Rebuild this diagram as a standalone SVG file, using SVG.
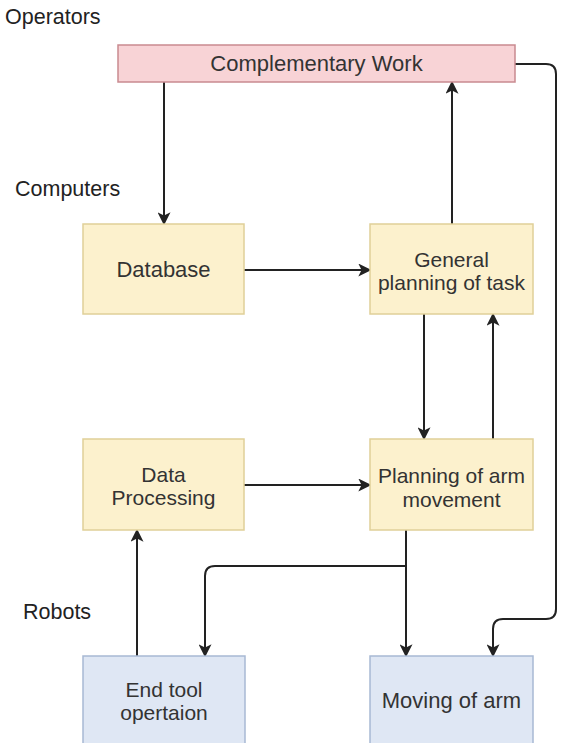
<svg xmlns="http://www.w3.org/2000/svg" width="566" height="743" viewBox="0 0 566 743">
  <defs>
    <style>
      .lbl { font-family: "Liberation Sans", Arial, sans-serif; font-size: 21.5px; fill: #222; }
      .txt { font-family: "Liberation Sans", Arial, sans-serif; font-size: 21px; fill: #333; text-anchor: middle; }
      .big { font-size: 22px; }
      .pink { fill: #f8d3d6; stroke: #c98a90; stroke-width: 1.5; }
      .yellow { fill: #fcf1cd; stroke: #e0cf98; stroke-width: 1.5; }
      .blue { fill: #dfe7f4; stroke: #a8b9d4; stroke-width: 1.5; }
      .edge { fill: none; stroke: #222; stroke-width: 2; marker-end: url(#arrow); }
    </style>
    <marker id="arrow" viewBox="0 0 10 10" refX="9" refY="5" markerWidth="13" markerHeight="13" markerUnits="userSpaceOnUse" orient="auto">
      <path d="M0,0 L10,5 L0,10 L2.5,5 Z" fill="#222"/>
    </marker>
  </defs>
  <rect width="566" height="743" fill="#fff"/>

  <!-- lane labels -->
  <text class="lbl" x="5" y="24">Operators</text>
  <text class="lbl" x="15" y="196">Computers</text>
  <text class="lbl" x="23" y="619">Robots</text>

  <!-- connectors -->
  <g id="connectors">
    <path class="edge" d="M164,82 V224"/>
    <path class="edge" d="M452,224 V82"/>
    <path class="edge" d="M244,270 H370"/>
    <path class="edge" d="M424,314 V439"/>
    <path class="edge" d="M493,439 V314"/>
    <path class="edge" d="M244,485 H370"/>
    <path class="edge" d="M137,656 V530"/>
    <path class="edge" d="M406,530 V656"/>
    <path class="edge" d="M406,566 H215 Q205,566 205,576 V656"/>
    <path class="edge" d="M515,64 H546 Q556,64 556,74 V609 Q556,619 546,619 H503 Q493,619 493,629 V656"/>
  </g>

  <g id="complementary-work">
    <rect class="pink" x="118" y="45" width="397" height="37"/>
    <text class="txt big" x="316.5" y="71">Complementary Work</text>
  </g>
  <g id="database">
    <rect class="yellow" x="83" y="224" width="161" height="90"/>
    <text class="txt big" x="163.5" y="277">Database</text>
  </g>
  <g id="general-planning">
    <rect class="yellow" x="370" y="224" width="163" height="90"/>
    <text class="txt" x="451.5" y="266.5">General</text>
    <text class="txt" x="451.5" y="290">planning of task</text>
  </g>
  <g id="data-processing">
    <rect class="yellow" x="83" y="439" width="161" height="91"/>
    <text class="txt" x="163.5" y="481.5">Data</text>
    <text class="txt" x="163.5" y="505">Processing</text>
  </g>
  <g id="planning-arm">
    <rect class="yellow" x="370" y="439" width="163" height="91"/>
    <text class="txt" x="451.5" y="483">Planning of arm</text>
    <text class="txt" x="451.5" y="506.5">movement</text>
  </g>
  <g id="end-tool">
    <rect class="blue" x="83" y="656" width="162" height="95"/>
    <text class="txt" x="164" y="696.5">End tool</text>
    <text class="txt" x="164" y="720">opertaion</text>
  </g>
  <g id="moving-arm">
    <rect class="blue" x="370" y="656" width="163" height="95"/>
    <text class="txt big" x="451.5" y="708">Moving of arm</text>
  </g>
</svg>
